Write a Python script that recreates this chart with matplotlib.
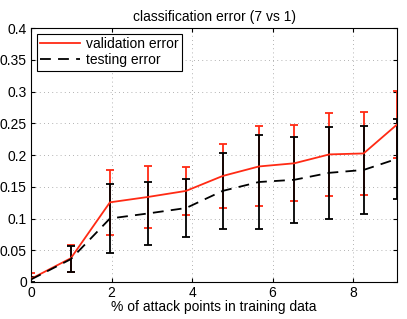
import numpy as np
import matplotlib
matplotlib.use('Agg')
import matplotlib.pyplot as plt

plt.rcParams['font.family'] = ['Liberation Sans', 'DejaVu Sans']

# % of attack points in training data
pct = [0, 0.99, 1.96, 2.91, 3.85, 4.76, 5.66, 6.54, 7.41, 8.26, 9.09]

val_err = [0.005, 0.0375, 0.1255, 0.134, 0.1435, 0.167, 0.182, 0.187, 0.201, 0.2025, 0.248]
val_std = [0.009, 0.021, 0.051, 0.049, 0.038, 0.051, 0.063, 0.060, 0.066, 0.065, 0.053]

test_err = [0.004, 0.036, 0.100, 0.108, 0.1165, 0.1435, 0.1575, 0.161, 0.172, 0.1765, 0.194]
test_std = [0.004, 0.021, 0.054, 0.050, 0.045, 0.060, 0.074, 0.068, 0.072, 0.070, 0.063]

red = '#ff2a14'

fig = plt.figure(figsize=(4.07, 3.19), dpi=100)
ax = fig.add_axes([0.0762, 0.116, 0.8992, 0.796])

ax.errorbar(pct, val_err, yerr=val_std, fmt='none', ecolor=red, elinewidth=1.3,
            capsize=3, capthick=1.3, zorder=2)
ax.errorbar(pct, test_err, yerr=test_std, fmt='none', ecolor='black', elinewidth=1.3,
            capsize=3, capthick=1.3, zorder=3)
ax.plot(pct, val_err, color=red, lw=1.3, label='validation error', zorder=4)
ax.plot(pct, test_err, color='black', lw=1.3, ls=(0, (6, 4)), label='testing error', zorder=4)

ax.set_xlim(0, 9.09)
ax.set_ylim(0, 0.4)
ax.set_xticks([0, 2, 4, 6, 8])
yt = np.arange(0, 0.401, 0.05)
ax.set_yticks(yt)
ax.set_yticklabels(['0', '0.05', '0.1', '0.15', '0.2', '0.25', '0.3', '0.35', '0.4'])
ax.tick_params(direction='in', top=True, right=True, labelsize=10, length=3, pad=3)
ax.grid(True, ls=(0, (1, 4)), color='#999999', lw=0.6)
for s in ax.spines.values():
    s.set_linewidth(0.8)

ax.set_title('classification error (7 vs 1)', fontsize=10, pad=5)
ax.set_xlabel('% of attack points in training data', fontsize=10, labelpad=0)

leg = ax.legend(loc='upper left', fontsize=10, frameon=True, fancybox=False,
                edgecolor='black', framealpha=1, borderaxespad=0.4,
                handlelength=2.9, borderpad=0.25, labelspacing=0.15, handletextpad=0.4)
leg.get_frame().set_linewidth(0.8)

fig.savefig('out.png', dpi=100)
